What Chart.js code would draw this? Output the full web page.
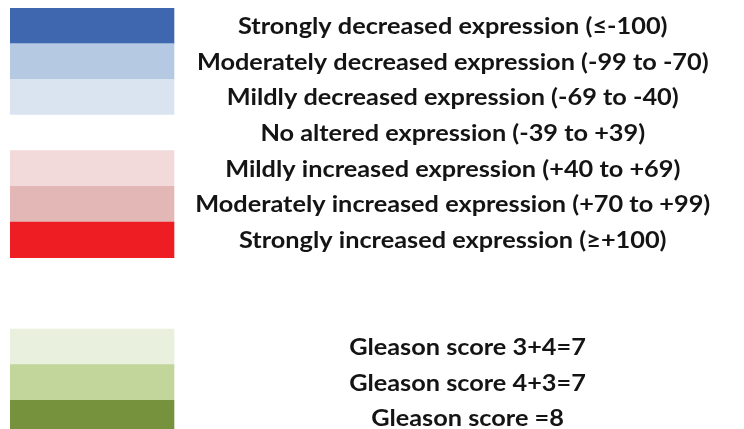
<!DOCTYPE html>
<html>
<head>
<meta charset="utf-8">
<script src="https://cdn.jsdelivr.net/npm/chart.js@4"></script>
<style>
  html, body { margin: 0; padding: 0; background: #fff; overflow: hidden; }
  #wrap { position: relative; width: 744px; height: 436px; }
</style>
</head>
<body>
<div id="wrap"><canvas id="legendChart"></canvas></div>
<script>
// legend rows (two empty rows make the gap between the two groups)
const rowLabels = [
    'Strongly decreased expression (≤-100)',
    'Moderately decreased expression (-99 to -70)',
    'Mildly decreased expression (-69 to -40)',
    'No altered expression (-39 to +39)',
    'Mildly increased expression (+40 to +69)',
    'Moderately increased expression (+70 to +99)',
    'Strongly increased expression (≥+100)',
    '',
    '',
    'Gleason score 3+4=7',
    'Gleason score 4+3=7',
    'Gleason score =8',
];
const swatchColors = [
    '#3f67b0', '#b6c9e2', '#dae4f1', '#ffffff', '#f2d9da', '#e4b7b7', '#ee1d24',
    null, null,
    '#e9f0dd', '#c2d69b', '#76923c',
];
// every colour swatch is one unit wide
const swatchSpan = rowLabels.map(function(label, i) {
    return swatchColors[i] ? [0, 1] : null;
});

const legendChart = document.getElementById('legendChart');

const rowText = {
    id: 'rowText',
    afterDatasetsDraw: function(chart, args, opts) {
        const ctx = chart.ctx;
        const xs = chart.scales.x;
        const ys = chart.scales.y;
        ctx.save();
        ctx.font = opts.font;
        ctx.fillStyle = opts.color;
        ctx.textAlign = 'center';
        ctx.textBaseline = 'middle';
        rowLabels.forEach(function(label, i) {
            if (!label) return;
            const cx = xs.getPixelForValue(i > 8 ? opts.centerB : opts.centerA);
            ctx.save();
            ctx.translate(cx, ys.getPixelForValue(i) + 1);
            ctx.scale(opts.squeeze, 1);
            ctx.fillText(label, 0, 0);
            ctx.restore();
        });
        ctx.restore();
    }
};

new Chart(legendChart, {
    type: 'bar',
    plugins: [rowText],
    data: {
        labels: rowLabels,
        datasets: [{
            data: swatchSpan,
            backgroundColor: swatchColors,
            borderWidth: 0,
            barPercentage: 1,
            categoryPercentage: 1,
        }]
    },
    options: {
        indexAxis: 'y',
        responsive: true,
        maintainAspectRatio: false,
        animation: false,
        layout: { padding: { left: 10, top: 8, right: 0, bottom: 0 } },
        scales: {
            x: { display: false, min: 0, max: 4.476 },
            y: { display: false }
        },
        plugins: {
            legend: { display: false },
            tooltip: { enabled: false },
            rowText: {
                font: 'bold 22px Lato',
                color: '#141414',
                centerA: 2.70,
                centerB: 2.79,
                squeeze: 1.15,
            }
        }
    }
});
</script>
</body>
</html>
